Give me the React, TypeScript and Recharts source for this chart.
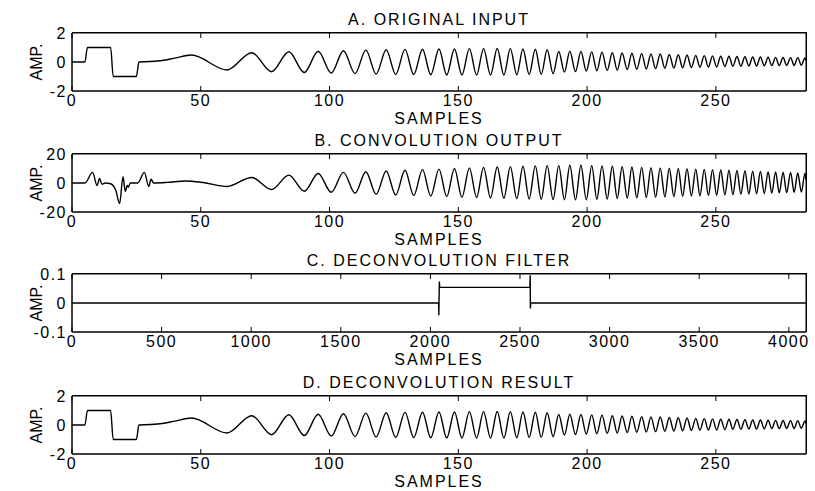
import React from 'react';
import { LineChart, Line, XAxis, YAxis, ReferenceArea } from 'recharts';

// A. original input: two box pulses, then a chirp (turning points)
const inputHeadX = [0, 5, 6, 15, 16, 25, 26, 30, 35, 40, 46.4];
const inputHeadY = [0, 0, 1, 1, -1, -1, 0, 0.03, 0.1, 0.27, 0.48];

// chirp troughs / peaks (alternating, trough first) - same positions in A, B and D
const chirpX = [
  60.2, 69.8, 77.5, 84.2, 90.2, 95.6, 100.7, 105.4, 109.9, 114.1,
  118.1, 122.0, 125.7, 129.3, 132.7, 136.1, 139.3, 142.5, 145.5, 148.5,
  151.4, 154.3, 157.1, 159.8, 162.5, 165.1, 167.7, 170.2, 172.7, 175.1,
  177.5, 179.9, 182.2, 184.5, 186.8, 189.0, 191.2, 193.3, 195.5, 197.6,
  199.7, 201.8, 203.8, 205.8, 207.8, 209.8, 211.7, 213.6, 215.6, 217.4,
  219.3, 221.2, 223.0, 224.8, 226.6, 228.4, 230.2, 231.9, 233.7, 235.4,
  237.1, 238.8, 240.5, 242.2, 243.8, 245.5, 247.1, 248.7, 250.3, 251.9,
  253.5, 255.1, 256.6, 258.2, 259.7, 261.3, 262.8, 264.3, 265.8, 267.3,
  268.8, 270.3, 271.7, 273.2, 274.6, 276.1, 277.5, 279.0, 280.4, 281.8,
  283.2, 284.6, 285
];

const inputAmp = [
  -0.55, 0.64, -0.67, 0.71, -0.72, 0.74, -0.76, 0.78, -0.8, 0.82,
  -0.83, 0.84, -0.86, 0.87, -0.87, 0.88, -0.88, 0.9, -0.9, 0.9,
  -0.9, 0.92, -0.9, 0.92, -0.9, 0.93, -0.9, 0.92, -0.88, 0.9,
  -0.86, 0.88, -0.85, 0.85, -0.8, 0.72, -0.7, 0.74, -0.66, 0.72,
  -0.62, 0.7, -0.6, 0.68, -0.58, 0.64, -0.56, 0.62, -0.52, 0.6,
  -0.5, 0.58, -0.48, 0.56, -0.46, 0.55, -0.44, 0.52, -0.42, 0.5,
  -0.4, 0.48, -0.38, 0.46, -0.36, 0.44, -0.35, 0.42, -0.34, 0.4,
  -0.32, 0.4, -0.3, 0.38, -0.3, 0.36, -0.28, 0.35, -0.28, 0.34,
  -0.26, 0.33, -0.25, 0.32, -0.25, 0.31, -0.24, 0.3, -0.24, 0.3,
  -0.22, 0.28, 0.1
];

// B. convolution output
const outputHeadX = [0, 5, 8, 9.7, 10.7, 11.6, 13, 15, 17, 18.5, 19.8, 20.7, 21.4, 21.9, 22.6, 25.5, 28.1, 29.8, 30.7, 31.7, 37, 44, 51];
const outputHeadY = [0, 0, 7.3, -1.7, 3.1, -0.8, 0, -0.5, -5, -14.2, 4.3, -5.9, -1.7, -3, 0, 0, 7.3, -2.4, 2.6, 0, 0.4, 1.4, 0.3];
const outputAmp = [
  -2.4, 3.8, -4.5, 5.4, -5.7, 6.6, -6.4, 7.3, -7.1, 7.8,
  -7.8, 8.3, -8.3, 8.8, -8.6, 9.2, -9, 9.6, -9.4, 10,
  -9.8, 10.4, -10, 10.8, -10.3, 11, -10.5, 11.3, -10.8, 11.5,
  -11, 11.8, -11.2, 12, -11.4, 12, -11.5, 12.2, -11.6, 12.2,
  -11.5, 12, -11.2, 11.8, -11, 11.5, -10.6, 11.2, -10.4, 11,
  -10.2, 10.8, -10, 10.6, -9.8, 10.4, -9.6, 10.2, -9.4, 10,
  -9.2, 9.8, -9, 9.6, -8.8, 9.4, -8.6, 9.2, -8.4, 9,
  -8.2, 8.8, -8, 8.6, -7.8, 8.4, -7.6, 8.2, -7.4, 8,
  -7.2, 7.8, -7, 7.6, -6.8, 7.4, -6.6, 7.2, -6.4, 7,
  -6.2, 6.8, 2
];

// C. deconvolution filter
const filterX = [0, 2046, 2047, 2050, 2052, 2555, 2557, 2558, 2560, 4096];
const filterY = [0, 0, -0.042, 0.074, 0.054, 0.054, 0.096, -0.019, 0, 0];

const sampleTicks = [0, 50, 100, 150, 200, 250];
const filterTicks = [0, 500, 1000, 1500, 2000, 2500, 3000, 3500, 4000];
const ampTicks = [-2, 0, 2];
const convTicks = [-20, 0, 20];
const filterAmpTicks = [-0.1, 0, 0.1];

type Pt = { x: number; v: number };
const toRows = (xs: number[], ys: number[]): Pt[] => xs.map((x, i) => ({ x, v: ys[i] }));

const inputData = [...toRows(inputHeadX, inputHeadY), ...toRows(chirpX, inputAmp)];
const outputData = [...toRows(outputHeadX, outputHeadY), ...toRows(chirpX, outputAmp)];
const filterData = toRows(filterX, filterY);
// the deconvolution gives the input back
const resultData = inputData;

const PLOT_TOP = 33;
const PLOT_H = 58;
const TICK_GAP = 4;

// x tick: number under the axis plus short inward marks on the bottom and top edges
const SampleTick = (props: any) => {
  const { x, y, payload } = props;
  const axisY = y - TICK_GAP;
  return (
    <g>
      <line x1={x} x2={x} y1={axisY} y2={axisY - 5} stroke="#000" strokeWidth={1} />
      <line x1={x} x2={x} y1={axisY - PLOT_H} y2={axisY - PLOT_H + 5} stroke="#000" strokeWidth={1} />
      <text x={x} y={y} dy="0.71em" textAnchor="middle" fill="#000" fontSize={16} style={{ letterSpacing: '1.5px' }}>
        {payload.value}
      </text>
    </g>
  );
};

interface PanelProps {
  title: string;
  data: Pt[];
  xMax: number;
  xTicks: number[];
  yTicks: number[];
  top: number;
  curve: 'monotone' | 'linear';
}

const Panel = ({ title, data, xMax, xTicks, yTicks, top, curve }: PanelProps) => {
  const yMin = yTicks[0];
  const yMax = yTicks[yTicks.length - 1];
  return (
    <div style={{ position: 'absolute', left: 0, top, width: 815, height: 130 }}>
      <LineChart width={815} height={130} data={data} margin={{ top: PLOT_TOP - 1, right: 9, bottom: 0, left: 0 }}>
        <XAxis
          xAxisId="b"
          dataKey="x"
          type="number"
          domain={[0, xMax]}
          ticks={xTicks}
          interval={0}
          allowDataOverflow
          stroke="#000"
          tickLine={false}
          tickSize={0}
          tickMargin={TICK_GAP}
          height={39}
          tick={<SampleTick />}
          label={{ value: 'SAMPLES', position: 'insideBottom', offset: 6, fill: '#000', fontSize: 16 }}
        />
        {/* carries the panel title */}
        <XAxis
          xAxisId="t"
          orientation="top"
          dataKey="x"
          type="number"
          domain={[0, xMax]}
          ticks={xTicks}
          interval={0}
          allowDataOverflow
          axisLine={false}
          tickLine={false}
          height={1}
          tick={false}
          label={{ value: title, position: 'top', offset: 7, fill: '#000', fontSize: 16 }}
        />
        <YAxis
          yAxisId="l"
          type="number"
          domain={[yMin, yMax]}
          ticks={yTicks}
          interval={0}
          allowDataOverflow
          width={72}
          stroke="#000"
          tickLine={false}
          tickSize={0}
          tickMargin={5}
          tick={{ fill: '#000', fontSize: 16 }}
          label={{ value: 'AMP.', angle: -90, position: 'center', fill: '#000', fontSize: 16, className: 'amp' }}
        />
        {/* box round the plot */}
        <ReferenceArea
          xAxisId="b"
          yAxisId="l"
          x1={0}
          x2={xMax}
          y1={yMin}
          y2={yMax}
          fill="none"
          fillOpacity={0}
          stroke="#000"
          strokeOpacity={1}
          strokeWidth={1}
          ifOverflow="visible"
        />
        <Line
          xAxisId="b"
          yAxisId="l"
          type={curve}
          dataKey="v"
          stroke="#000"
          strokeWidth={1.4}
          dot={false}
          isAnimationActive={false}
        />
        <Line
          xAxisId="t"
          yAxisId="l"
          type={curve}
          dataKey="v"
          stroke="none"
          dot={false}
          activeDot={false}
          legendType="none"
          isAnimationActive={false}
        />
      </LineChart>
      {/* top and right edges of the plot box */}
      <div
        style={{
          position: 'absolute',
          left: 72,
          top: PLOT_TOP - 1,
          width: 735,
          height: PLOT_H + 1,
          boxSizing: 'border-box',
          borderTop: '1px solid #000',
          borderRight: '1px solid #000',
          pointerEvents: 'none',
          zIndex: 5
        }}
      />
    </div>
  );
};

export default function App() {
  return (
    <div
      style={{
        position: 'absolute',
        left: 0,
        top: 0,
        width: 815,
        height: 491,
        background: '#fff',
        overflow: 'hidden',
        fontFamily: '"Liberation Sans", Arial, sans-serif'
      }}
    >
      <style>{`
        .recharts-cartesian-axis-tick-value { letter-spacing: 1.5px; }
        .recharts-label { letter-spacing: 2px; }
        .recharts-label.amp { letter-spacing: -1px; }
      `}</style>
      <Panel title="A. ORIGINAL INPUT" data={inputData} xMax={285} xTicks={sampleTicks} yTicks={ampTicks} top={0} curve="monotone" />
      <Panel title="B. CONVOLUTION OUTPUT" data={outputData} xMax={285} xTicks={sampleTicks} yTicks={convTicks} top={121} curve="monotone" />
      <Panel title="C. DECONVOLUTION FILTER" data={filterData} xMax={4096} xTicks={filterTicks} yTicks={filterAmpTicks} top={241} curve="linear" />
      <Panel title="D. DECONVOLUTION RESULT" data={resultData} xMax={285} xTicks={sampleTicks} yTicks={ampTicks} top={363} curve="monotone" />
    </div>
  );
}
